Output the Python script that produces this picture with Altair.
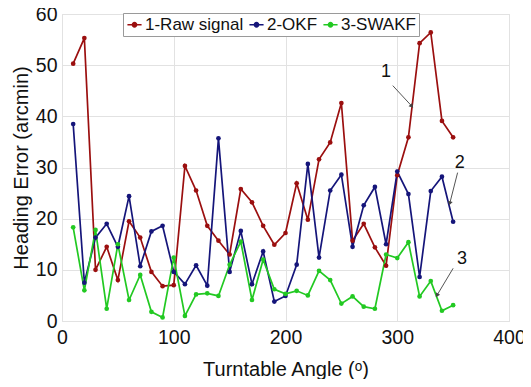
import altair as alt
import pandas as pd

angles = [10, 20, 30, 40, 50, 60, 70, 80, 90, 100, 110, 120, 130, 140, 150, 160, 170, 180,
          190, 200, 210, 220, 230, 240, 250, 260, 270, 280, 290, 300, 310, 320, 330, 340, 350]
raw = [50.3, 55.3, 10.0, 14.5, 8.0, 19.5, 16.3, 9.6, 6.8, 7.0, 30.3, 25.5, 18.6, 15.7, 13.0,
       25.8, 23.2, 18.6, 14.9, 17.2, 26.9, 19.8, 31.6, 34.9, 42.6, 15.7, 19.0, 14.4, 10.8,
       28.5, 35.9, 54.3, 56.4, 39.1, 35.9]
okf = [38.5, 7.5, 16.3, 19.0, 14.5, 24.4, 10.7, 17.5, 18.6, 9.6, 7.2, 10.9, 6.9, 35.7, 9.6,
       17.6, 7.2, 13.6, 3.8, 4.9, 11.0, 30.7, 12.4, 25.5, 28.6, 14.5, 22.6, 26.2, 15.0,
       29.2, 24.8, 8.6, 25.4, 28.2, 19.4]
swakf = [18.3, 6.0, 17.8, 2.4, 15.0, 4.1, 9.0, 1.8, 0.7, 12.4, 1.0, 5.2, 5.4, 4.9, 11.0,
         15.5, 4.1, 12.0, 6.2, 5.3, 5.9, 5.0, 9.8, 8.0, 3.4, 4.8, 2.8, 2.4, 13.0,
         12.3, 15.4, 4.8, 7.8, 2.0, 3.1]
series_names = ["1-Raw signal", "2-OKF", "3-SWAKF"]
series_colors = ["#9B0F0F", "#15157A", "#22C922"]

# annotations (data coordinates)
ann_labels = ["1", "2", "3"]
ann_text_x = [290, 356, 358]
ann_text_y = [48.6, 30.9, 12.2]
ann_from_x = [296, 354, 350]
ann_from_y = [46.0, 29.0, 10.3]
ann_to_x = [313, 347, 335.5]
ann_to_y = [42.0, 23.0, 5.0]
ann_angle = [138, 195, 210]

rows = []
for name, vals in zip(series_names, [raw, okf, swakf]):
    for a, v in zip(angles, vals):
        rows.append({"angle": a, "err": v, "series": name})
df = pd.DataFrame(rows)

ann = pd.DataFrame({"label": ann_labels, "tx": ann_text_x, "ty": ann_text_y,
                    "fx": ann_from_x, "fy": ann_from_y, "ex": ann_to_x, "ey": ann_to_y,
                    "ang": ann_angle})

font = "Liberation Sans"
xscale = alt.Scale(domain=[0, 400], nice=False)
yscale = alt.Scale(domain=[0, 60], nice=False)

color = alt.Color("series:N", sort=series_names,
                  scale=alt.Scale(domain=series_names, range=series_colors),
                  legend=alt.Legend(
                      title=None, orient="none", legendX=61, legendY=-1,
                      direction="horizontal",
                      symbolType="M-1,0 L1,0 M0.3,0 A0.3,0.3 0 1,1 -0.3,0 A0.3,0.3 0 1,1 0.3,0 Z",
                      symbolSize=200, symbolStrokeWidth=1.6,
                      labelFont=font, labelFontSize=17, labelColor="#111",
                      labelOffset=2, columnPadding=2,
                      padding=3, strokeColor="#9a9a9a", fillColor="white",
                      symbolOffset=0))

x = alt.X("angle:Q", scale=xscale,
          axis=alt.Axis(title="Turntable Angle (ᵒ)", values=[0, 100, 200, 300, 400],
                        labelFont=font, labelFontSize=19.5, labelColor="#111",
                        titleFont=font, titleFontSize=20, titleFontWeight="normal",
                        titleColor="#111", titlePadding=13, labelPadding=7,
                        ticks=False, domain=False, gridColor="#e2e2e2",
                        labelFlush=False, labelOverlap=False))
y = alt.Y("err:Q", scale=yscale,
          axis=alt.Axis(title="Heading Error (arcmin)", values=[0, 10, 20, 30, 40, 50, 60],
                        labelFont=font, labelFontSize=19.5, labelColor="#111",
                        titleFont=font, titleFontSize=20, titleFontWeight="normal",
                        titleColor="#111", titlePadding=4, labelPadding=5,
                        ticks=False, domain=False, gridColor="#e2e2e2",
                        labelFlush=False, labelOverlap=False))

lines = alt.Chart(df).mark_line(strokeWidth=1.7).encode(x=x, y=y, color=color)
pts = alt.Chart(df).mark_point(filled=True, size=22, opacity=1).encode(
    x="angle:Q", y="err:Q", color=alt.Color("series:N", sort=series_names,
                                              scale=alt.Scale(domain=series_names, range=series_colors)))

arrows = alt.Chart(ann).mark_rule(color="#555", strokeWidth=1).encode(
    x="fx:Q", y="fy:Q", x2="ex:Q", y2="ey:Q")
heads = alt.Chart(ann).mark_point(shape="triangle-up", filled=True, color="#444", size=24,
                                  opacity=1).encode(
    x="ex:Q", y="ey:Q", angle=alt.Angle("ang:Q", scale=None))
texts = alt.Chart(ann).mark_text(font=font, fontSize=18, color="#111").encode(
    x="tx:Q", y="ty:Q", text="label:N")

chart = alt.layer(lines, pts, arrows, heads, texts).properties(
    width=447, height=307,
    autosize=alt.AutoSizeParams(type="none"),
    padding={"left": 54, "top": 6, "right": 14, "bottom": 58},
).configure_view(stroke="#9a9a9a", strokeWidth=1).configure(background="white")

chart.save("out.html", embed_options={"renderer": "svg", "actions": False})
